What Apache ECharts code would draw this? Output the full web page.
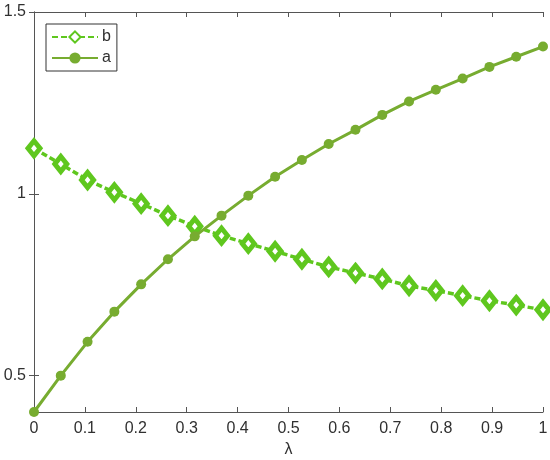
<!DOCTYPE html>
<html>
<head>
<meta charset="utf-8">
<script src="https://cdn.jsdelivr.net/npm/echarts@6/dist/echarts.min.js"></script>
<style>html,body{margin:0;padding:0;background:#fff;}#c{width:550px;height:460px;}</style>
</head>
<body>
<div id="c"></div>
<script>
var lambda = [0, 0.05263, 0.10526, 0.15789, 0.21053, 0.26316, 0.31579, 0.36842, 0.42105, 0.47368,
              0.52632, 0.57895, 0.63158, 0.68421, 0.73684, 0.78947, 0.84211, 0.89474, 0.94737, 1];
var seriesA = [0.400, 0.500, 0.593, 0.676, 0.751, 0.820, 0.883, 0.940, 0.995, 1.047,
               1.093, 1.137, 1.176, 1.217, 1.254, 1.286, 1.317, 1.349, 1.377, 1.405];
var seriesB = [1.125, 1.082, 1.038, 1.004, 0.973, 0.940, 0.911, 0.885, 0.863, 0.842,
               0.820, 0.799, 0.782, 0.766, 0.747, 0.734, 0.720, 0.706, 0.694, 0.681];
var yTicks = [0.5, 1, 1.5];
var xLabel = 'λ';
var names = ['b', 'a'];

function pairs(xs, ys) { return xs.map(function (x, i) { return [x, ys[i]]; }); }

var axisColor = '#555555';
var textColor = '#303030';
var font = 'Liberation Sans, Arial, sans-serif';
var chart = echarts.init(document.getElementById('c'), null, {renderer: 'canvas'});
chart.setOption({
  animation: false,
  backgroundColor: '#fff',
  grid: {left: 34, right: 7, top: 12, bottom: 48, containLabel: false, outerBoundsMode: 'none'},
  legend: {
    left: 46, top: 24, orient: 'vertical',
    data: names,
    itemWidth: 46, itemHeight: 14, itemGap: 5,
    padding: [5, 6, 5, 5],
    borderColor: '#333', borderWidth: 1, backgroundColor: '#fff',
    textStyle: {fontFamily: font, fontSize: 16, color: textColor, padding: [0, 0, 0, -1]}
  },
  xAxis: [{
    type: 'value', min: 0, max: 1, interval: 0.1,
    name: xLabel, nameLocation: 'middle', nameGap: 28,
    nameTextStyle: {fontFamily: font, fontSize: 16, color: textColor},
    axisLine: {show: true, lineStyle: {color: axisColor, width: 1}},
    axisTick: {show: true, inside: true, length: 5, lineStyle: {color: axisColor}},
    axisLabel: {fontFamily: font, fontSize: 16, color: textColor, margin: 9,
      formatter: function (v) { return String(Math.round(v * 10) / 10); }},
    splitLine: {show: false}
  }, {
    type: 'value', position: 'top', min: 0, max: 1, interval: 0.1,
    axisLine: {show: true, lineStyle: {color: axisColor, width: 1}},
    axisTick: {show: true, inside: true, length: 5, lineStyle: {color: axisColor}},
    axisLabel: {show: false}, splitLine: {show: false}
  }],
  yAxis: [{
    type: 'value', min: 0.4, max: 1.5,
    axisLine: {show: true, lineStyle: {color: axisColor, width: 1}},
    axisTick: {show: true, inside: true, length: 5, customValues: yTicks, lineStyle: {color: axisColor}},
    axisLabel: {fontFamily: font, fontSize: 16, color: textColor, margin: 8, customValues: yTicks,
      formatter: function (v) { return String(v); }},
    splitLine: {show: false}
  }, {
    type: 'value', position: 'right', min: 0.4, max: 1.5,
    axisLine: {show: true, lineStyle: {color: axisColor, width: 1}},
    axisTick: {show: true, inside: true, length: 5, customValues: yTicks, lineStyle: {color: axisColor}},
    axisLabel: {show: false}, splitLine: {show: false}
  }],
  series: [{
    name: names[0], type: 'line', xAxisIndex: 0, yAxisIndex: 0,
    data: pairs(lambda, seriesB),
    symbol: 'diamond', symbolSize: [12, 15], showAllSymbol: true,
    lineStyle: {color: '#5fc71e', width: 3.5, type: [6, 3]},
    itemStyle: {color: '#ffffff', borderColor: '#5fc71e', borderWidth: 5},
    color: '#5fc71e', z: 2
  }, {
    name: names[1], type: 'line', xAxisIndex: 0, yAxisIndex: 0,
    data: pairs(lambda, seriesA),
    symbol: 'circle', symbolSize: 10, showAllSymbol: true,
    lineStyle: {color: '#77ac30', width: 3},
    itemStyle: {color: '#77ac30', borderWidth: 0},
    color: '#77ac30', z: 3
  }]
});
</script>
</body>
</html>
